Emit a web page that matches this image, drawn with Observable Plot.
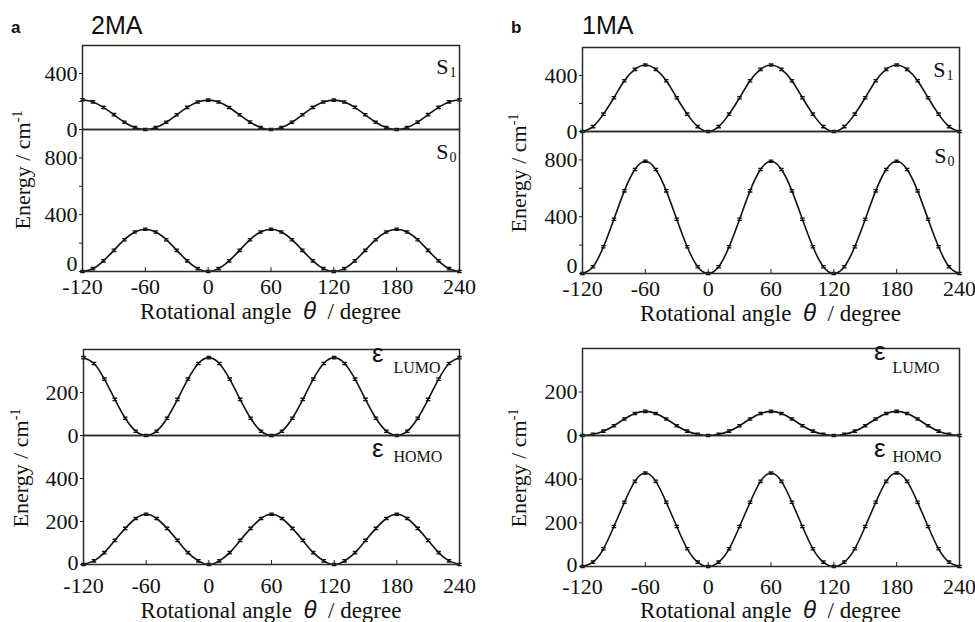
<!DOCTYPE html>
<html><head><meta charset="utf-8">
<script src="https://cdn.jsdelivr.net/npm/d3@7"></script>
<script src="https://cdn.jsdelivr.net/npm/@observablehq/plot@0.6"></script>
<style>
body{margin:0;background:#fff}
#root{position:relative;width:975px;height:622px;overflow:hidden;background:#fff;font-family:"Liberation Serif","Times New Roman",serif;color:#111}
.abs{position:absolute;white-space:nowrap;line-height:22px}
.ttl{font-family:"Liberation Sans",Arial,sans-serif}
</style></head><body><div id="root"></div>
<script>
// ---- data ----
const theta = [-120,-110,-100,-90,-80,-70,-60,-50,-40,-30,-20,-10,0,10,20,30,40,50,60,70,80,90,100,110,120,130,140,150,160,170,180,190,200,210,220,230,240];
const xTicks = [-120,-60,0,60,120,180,240];

// 2MA
const S1_2MA = [212,197,158,106,52,14,0,14,52,105,158,196,210,196,157,105,53,14,0,14,52,105,158,196,210,196,158,105,52,14,0,14,53,106,158,197,212];
const S0_2MA = [0,20,75,149,224,278,298,278,224,149,75,20,0,20,75,149,224,278,298,278,224,149,75,20,0,20,75,149,224,278,298,278,224,149,75,20,0];
const LUMO_2MA = [362,335,262,168,80,20,0,20,80,168,262,335,362,335,262,168,80,20,0,20,80,168,262,335,362,335,262,168,80,20,0,20,80,168,262,335,362];
const HOMO_2MA = [0,17,55,112,168,214,234,214,168,112,55,17,0,17,55,112,168,214,234,214,168,112,55,17,0,17,55,112,168,214,234,214,168,112,55,17,0];
// 1MA
const S1_1MA = [0,35,124,241,363,444,475,444,363,241,124,35,0,35,124,241,363,444,475,444,363,241,124,35,0,35,124,241,363,444,475,444,363,241,124,35,0];
const S0_1MA = [0,48,188,382,582,732,790,732,582,382,188,48,0,48,188,382,582,732,790,732,582,382,188,48,0,48,188,382,582,732,790,732,582,382,188,48,0];
const LUMO_1MA = [0,6,20,45,76,101,111,101,76,45,20,6,0,6,20,45,76,101,111,101,76,45,20,6,0,6,20,45,76,101,111,101,76,45,20,6,0];
const HOMO_1MA = [0,20,81,183,294,390,428,390,294,183,81,20,0,20,81,183,294,390,428,390,294,183,81,20,0,20,81,183,294,390,428,390,294,183,81,20,0];

const panelLetters = ["a","b"];
const panelNames = ["2MA","1MA"];

// ---- drawing ----
const root = document.getElementById("root");
const SERIF = "'Liberation Serif','Times New Roman',serif";
const SANS = "'Liberation Sans',Arial,sans-serif";

const ibeam = {
  draw(ctx, size) {
    const r = Math.sqrt(size / Math.PI), h = r * 0.5;
    ctx.moveTo(-r, -h); ctx.lineTo(r, -h);
    ctx.moveTo(-r, h); ctx.lineTo(r, h);
    ctx.moveTo(0, -h); ctx.lineTo(0, h);
  }
};

function sLabel(sub, dx, dy) {
  return [
    Plot.text(["S"], {text: d => d, frameAnchor: "top-right", textAnchor: "end", lineAnchor: "bottom", dx, dy, fontSize: 22, fontFamily: SERIF, fill: "#111"}),
    Plot.text([sub], {text: d => d, frameAnchor: "top-right", textAnchor: "start", lineAnchor: "bottom", dx: dx + 1, dy: dy + 3, fontSize: 14, fontFamily: SERIF, fill: "#111"})
  ];
}
function eLabel(sub, dxE, dyE, dxS, dyS) {
  return [
    Plot.text(["ε"], {text: d => d, frameAnchor: "top-right", textAnchor: "end", lineAnchor: "bottom", dx: dxE, dy: dyE, fontSize: 26, fontFamily: SANS, fill: "#111"}),
    Plot.text([sub], {text: d => d, frameAnchor: "top-right", textAnchor: "start", lineAnchor: "bottom", dx: dxS, dy: dyS, fontSize: 16, fontFamily: SERIF, fill: "#111"})
  ];
}

function subplot({fl, fr, top, innerH, mt, mb, ydom, major, minor, yvals, xaxis, xpad, zeroDy, annot}) {
  const ml = 70, mr = 20;
  const data = theta.map((t, i) => ({t, e: yvals[i]}));
  const lifted = zeroDy ? major.filter(v => v === ydom[0]) : [];
  const marks = [
    Plot.axisY({ticks: major, tickSize: 3, tickPadding: 2, tickFormat: d => lifted.includes(d) ? "" : String(d), label: null, stroke: "#222", fontFamily: SERIF, fontSize: 22}),
    Plot.axisY({ticks: minor, tickSize: 3, tickFormat: () => "", label: null, stroke: "#222"}),
    Plot.line(data, {x: "t", y: "e", curve: "natural", stroke: "#111", strokeWidth: 1.6}),
    Plot.dot(data, {x: "t", y: "e", symbol: ibeam, r: 2.3, fill: "none", stroke: "#111", strokeWidth: 1.3}),
    Plot.frame({stroke: "#2a2a2a", strokeWidth: 1.5}),
    ...annot
  ];
  if (lifted.length) {
    marks.push(Plot.text(lifted, {y: d => d, text: d => String(d), frameAnchor: "left", textAnchor: "end", lineAnchor: "middle", dx: -5, dy: zeroDy, fontFamily: SERIF, fontSize: 22, fill: "#111"}));
  }
  if (xaxis) {
    marks.push(
      Plot.axisX({ticks: xTicks, tickSize: 0, tickPadding: xpad, tickFormat: d => String(d), label: null, fontFamily: SERIF, fontSize: 22}),
      Plot.tickX(xTicks, {x: d => d, insetTop: innerH - 4, stroke: "#222"})
    );
  }
  const svg = Plot.plot({
    width: fr - fl + ml + mr, height: innerH + mt + mb,
    marginLeft: ml, marginRight: mr, marginTop: mt, marginBottom: mb,
    x: {domain: [-120, 240], label: null, axis: xaxis ? undefined : null},
    y: {domain: ydom, label: null},
    style: {overflow: "visible", background: "transparent", fontFamily: SERIF, fontSize: "22px", color: "#111"},
    marks
  });
  svg.style.position = "absolute";
  svg.style.left = (fl - ml) + "px";
  svg.style.top = (top - mt) + "px";
  root.append(svg);
}

function addHTML(html, cls, css) {
  const d = document.createElement("div");
  d.className = "abs " + (cls || "");
  d.innerHTML = html;
  Object.assign(d.style, css);
  root.append(d);
  return d;
}

function panel(g, upperVals, lowerVals, upperCfg, lowerCfg, xpad, zeroDy, xlabBase, ylab) {
  subplot({fl: g.fl, fr: g.fr, top: g.ft, innerH: g.fd - g.ft, mt: 10, mb: 0,
    ydom: upperCfg.dom, major: upperCfg.major, minor: upperCfg.minor, yvals: upperVals, xaxis: false, annot: upperCfg.annot});
  subplot({fl: g.fl, fr: g.fr, top: g.fd, innerH: g.fb - g.fd, mt: 0, mb: 40,
    ydom: lowerCfg.dom, major: lowerCfg.major, minor: lowerCfg.minor, yvals: lowerVals, xaxis: true, xpad, zeroDy, annot: lowerCfg.annot});
  // x axis label
  addHTML('Rotational angle&nbsp; <span style="font-family:\'Liberation Sans\',Arial,sans-serif;font-style:italic;font-size:24px;line-height:14px">θ</span>&nbsp; / degree', "", {
    fontSize: "23px", lineHeight: "14px", left: ((g.fl + g.fr) / 2) + "px", top: (xlabBase - 15) + "px", transform: "translateX(-50%)"});
  // y axis label
  addHTML('Energy / cm<span style="font-size:14px;position:relative;top:-8px">-1</span>', "", {
    fontSize: "22px", left: ylab.cx + "px", top: ylab.cy + "px", transform: "translate(-50%,-50%) rotate(-90deg)"});
}

// Titles
addHTML(panelLetters[0], "ttl", {left: "11px", top: "17px", fontSize: "17px", fontWeight: "bold"});
addHTML(panelNames[0], "ttl", {left: "91px", top: "14px", fontSize: "25px"});
addHTML(panelLetters[1], "ttl", {left: "511px", top: "17px", fontSize: "17px", fontWeight: "bold"});
addHTML(panelNames[1], "ttl", {left: "582px", top: "14px", fontSize: "25px"});

// Panel a (top): 2MA S1 / S0
panel({fl: 82, fr: 459, ft: 45, fd: 129, fb: 271}, S1_2MA, S0_2MA,
  {dom: [0, 600], major: [0, 400], minor: [200], annot: sLabel("1", -11, 28)},
  {dom: [0, 1000], major: [0, 400, 800], minor: [200, 600], annot: sLabel("0", -11, 29)},
  7, -8, 319, {cx: 24, cy: 170});
// Panel b (top): 1MA S1 / S0
panel({fl: 582, fr: 959, ft: 47, fd: 131, fb: 273}, S1_1MA, S0_1MA,
  {dom: [0, 600], major: [0, 400], minor: [200], annot: sLabel("1", -14, 29)},
  {dom: [0, 1000], major: [0, 400, 800], minor: [200, 600], annot: sLabel("0", -13, 31)},
  7, -8, 321, {cx: 520, cy: 173});
// Panel a (bottom): 2MA LUMO / HOMO
panel({fl: 83, fr: 459, ft: 349, fd: 435, fb: 564}, LUMO_2MA, HOMO_2MA,
  {dom: [0, 400], major: [0, 200], minor: [], annot: eLabel("LUMO", -76, 12, -66, 23)},
  {dom: [0, 600], major: [0, 200, 400], minor: [], annot: eLabel("HOMO", -76, 21, -66, 26)},
  13, -2, 618, {cx: 22, cy: 468});
// Panel b (bottom): 1MA LUMO / HOMO
panel({fl: 582, fr: 959, ft: 348, fd: 435, fb: 566}, LUMO_1MA, HOMO_1MA,
  {dom: [0, 400], major: [0, 200], minor: [], annot: eLabel("LUMO", -74, 11, -67, 24)},
  {dom: [0, 600], major: [0, 200, 400], minor: [], annot: eLabel("HOMO", -74, 21, -67, 26)},
  12, -2, 618, {cx: 520, cy: 468});
</script>
</body></html>
